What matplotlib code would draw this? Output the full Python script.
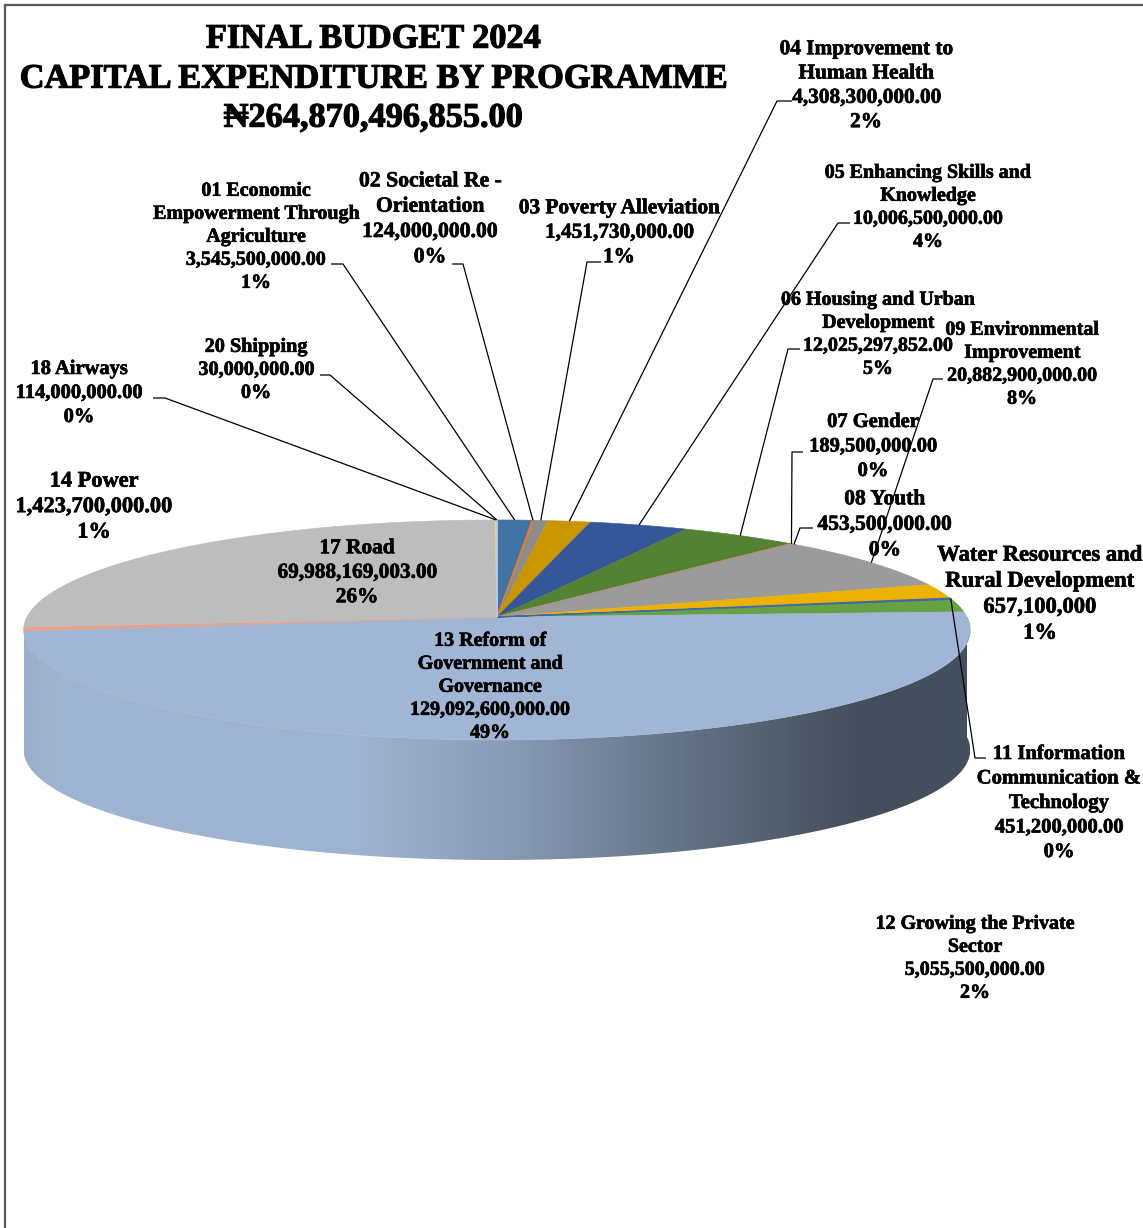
import numpy as np
import matplotlib
matplotlib.use("Agg")
import matplotlib.pyplot as plt
import matplotlib.patheffects as pe
from matplotlib.patches import Polygon
from matplotlib.colors import LinearSegmentedColormap

# ---------------- data ----------------
title_lines = ["FINAL BUDGET 2024", "CAPITAL EXPENDITURE BY PROGRAMME", "\u20a6264,870,496,855.00"]

programme_lines = [
    ["01 Economic", "Empowerment Through", "Agriculture"],
    ["02 Societal Re -", "Orientation"],
    ["03 Poverty Alleviation"],
    ["04 Improvement to", "Human Health"],
    ["05 Enhancing Skills and", "Knowledge"],
    ["06 Housing and Urban", "Development"],
    ["07 Gender"],
    ["08 Youth"],
    ["09 Environmental", "Improvement"],
    ["Water Resources and", "Rural Development"],
    ["11 Information", "Communication &", "Technology"],
    ["12 Growing the Private", "Sector"],
    ["13 Reform of", "Government and", "Governance"],
    ["14 Power"],
    ["17 Road"],
    ["18 Airways"],
    ["20 Shipping"],
]
amount_labels = ["3,545,500,000.00", "124,000,000.00", "1,451,730,000.00", "4,308,300,000.00",
                 "10,006,500,000.00", "12,025,297,852.00", "189,500,000.00", "453,500,000.00",
                 "20,882,900,000.00", "657,100,000", "451,200,000.00", "5,055,500,000.00",
                 "129,092,600,000.00", "1,423,700,000.00", "69,988,169,003.00", "114,000,000.00",
                 "30,000,000.00"]
percent_labels = ["1%", "0%", "1%", "2%", "4%", "5%", "0%", "0%", "8%", "1%", "0%", "2%",
                  "49%", "1%", "26%", "0%", "0%"]
# slice sizes (Water slice estimated from its drawn size)
slice_values = [3545.5e6, 124.0e6, 1451.73e6, 4308.3e6, 10006.5e6, 12025.297852e6, 189.5e6,
                453.5e6, 20882.9e6, 5700.0e6, 451.2e6, 5055.5e6, 129092.6e6, 1423.7e6,
                69988.169003e6, 114.0e6, 30.0e6]
slice_colors = ["#4174A5", "#E07B39", "#8C8C8C", "#C99600", "#335799", "#548235", "#E07B39",
                "#9A9A9A", "#9B9B9B", "#EDB100", "#3E69AD", "#68A044", "#A0B6D4", "#E9A28A",
                "#BDBDBD", "#F2D48A", "#B9C9DF"]

# ---------------- layout ----------------
W, H = 1143, 1228
fig = plt.figure(figsize=(W / 100, H / 100), dpi=100)
ax = fig.add_axes([0, 0, 1, 1])

CX, CY, RX, RY, K, DEPTH = 497, 617, 470, 108.5, 0.118, 120


def proj(theta_deg, r=1.0, h=0.0):
    t = np.radians(theta_deg)
    u = r * np.sin(t)
    v = r * np.cos(t)
    den = 1 + K * v
    return CX + RX * u / den, CY - RY * v / den + h


vals = np.array(slice_values)
edges = np.concatenate([[0.0], np.cumsum(vals / vals.sum()) * 360.0])

# side wall (front, visible part) with horizontal gradient
wall_stops = [(24, "#9BAFCC"), (60, "#A0B5D3"), (360, "#9EB3D1"), (500, "#8A9CB7"),
              (650, "#6B7A8E"), (800, "#4F5A69"), (880, "#434D5B"), (970, "#46515F")]
x0, x1 = wall_stops[0][0], wall_stops[-1][0]
cmap = LinearSegmentedColormap.from_list(
    "wall", [((x - x0) / (x1 - x0), c) for x, c in wall_stops])
for i in range(len(vals)):
    a, b = max(edges[i], 90.0), min(edges[i + 1], 270.0)
    if b <= a:
        continue
    th = np.linspace(a, b, 300)
    tx, ty = proj(th)
    bx, by = proj(th[::-1], h=DEPTH)
    poly = Polygon(np.column_stack([np.concatenate([tx, bx]), np.concatenate([ty, by])]),
                   closed=True, facecolor="none", edgecolor="none")
    ax.add_patch(poly)
    grad = cmap(np.linspace(0, 1, 600))[None, :, :]
    im = ax.imshow(grad, extent=[x0, x1, 1000, 400], aspect="auto",
                   interpolation="bilinear", zorder=1)
    im.set_clip_path(poly)

# top face
for i in range(len(vals)):
    a, b = edges[i], edges[i + 1]
    th = np.linspace(a, b, max(3, int((b - a) * 4)))
    px, py = proj(th)
    pts = np.column_stack([np.concatenate([[CX], px]), np.concatenate([[CY], py])])
    thin = (b - a) < 1.0
    ax.add_patch(Polygon(pts, closed=True, facecolor=slice_colors[i],
                         edgecolor=slice_colors[i], linewidth=0.9 if thin else 0.4,
                         zorder=3 if thin else 2))

# ---------------- labels ----------------
FONT = ["Liberation Serif", "DejaVu Serif"]
LABEL_FX = [pe.withStroke(linewidth=0.45, foreground="black")]
TITLE_FX = [pe.withStroke(linewidth=0.8, foreground="black")]


def put_lines(lines, cx, y0, step, px):
    for j, s in enumerate(lines):
        ax.text(cx, y0 + j * step + 0.34 * px, s, ha="center", va="baseline",
                fontsize=px * 0.72, fontweight="bold", family=FONT, color="black",
                zorder=5, path_effects=LABEL_FX)


for j, s in enumerate(title_lines):
    ax.text(373, [36, 76, 115][j] + 0.34 * 34.3, s, ha="center", va="baseline",
            fontsize=34.3 * 0.72, fontweight="bold", family=FONT, color="black",
            zorder=5, path_effects=TITLE_FX)

# (centre x, first line y, line step, font px)
label_layout = [
    (256, 189, 23.0, 20.0),
    (430, 179, 25.3, 21.7),
    (619, 206, 24.5, 21.3),
    (866, 47, 24.3, 21.3),
    (928, 171, 23.0, 20.0),
    (878, 298, 23.0, 20.0),
    (873, 420, 24.5, 20.5),
    (885, 497, 25.5, 21.5),
    (1022, 328, 23.0, 20.0),
    (1040, 553, 26.0, 22.6),
    (1059, 752, 24.5, 20.6),
    (975, 922, 23.0, 20.0),
    (490, 639, 23.0, 20.0),
    (94, 479, 25.5, 22.4),
    (357, 546, 24.5, 21.3),
    (79, 367, 24.0, 20.5),
    (256, 345, 23.0, 20.2),
]
for i, (cx, y0, step, px) in enumerate(label_layout):
    put_lines(programme_lines[i] + [amount_labels[i], percent_labels[i]], cx, y0, step, px)

# leader lines: label-side anchor points (tick), end on slice mid-angle at rim
leaders = {
    0: [(331, 264), (343, 264)],
    1: [(452, 264), (463, 264)],
    2: [(601, 262), (587, 262)],
    3: [(792, 101), (777, 101)],
    4: [(850, 223), (838, 223)],
    5: [(800, 349), (788, 349)],
    6: [(803, 452), (792, 452)],
    7: [(813, 528), (800, 528)],
    8: [(943, 379), (933, 379)],
    10: [(986, 758), (975, 758)],
    15: [(153, 398), (165, 398)],
    16: [(320, 375), (330, 375)],
}
for i, pts in leaders.items():
    mid = 0.5 * (edges[i] + edges[i + 1])
    ex, ey = proj(mid)
    xs = [p[0] for p in pts] + [ex]
    ys = [p[1] for p in pts] + [ey]
    ax.plot(xs, ys, color="black", linewidth=0.9, zorder=4, solid_capstyle="butt")

# chart border (visible left and top edges)
ax.plot([4.5, 4.5], [4.5, H], color="#5A5A5A", linewidth=1.6, zorder=6)
ax.plot([4.5, W], [4.5, 4.5], color="#5A5A5A", linewidth=1.6, zorder=6)

ax.set_xlim(0, W)
ax.set_ylim(H, 0)
ax.axis("off")
fig.savefig("out.png", dpi=100, facecolor="white")
